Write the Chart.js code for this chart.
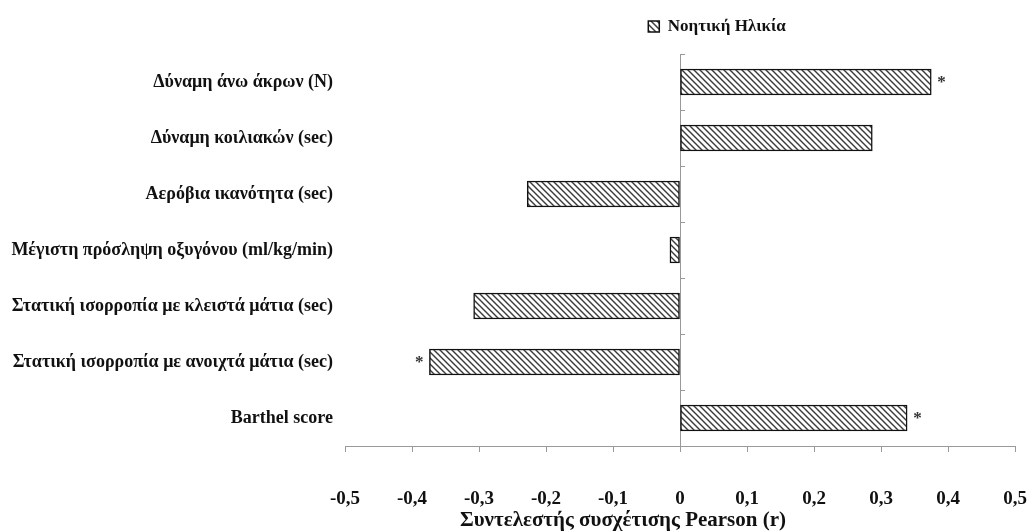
<!DOCTYPE html>
<html>
<head>
<meta charset="utf-8">
<script src="https://cdn.jsdelivr.net/npm/chart.js@4"></script>
<style>
  html, body { margin: 0; padding: 0; background: #fff; }
  #wrap { width: 1028px; height: 531px; }
</style>
</head>
<body>
<div id="wrap"><canvas id="myChart" width="1028" height="531"></canvas></div>
<script>
// Categories (top to bottom)
const categories = [
  'Δύναμη άνω άκρων (N)',
  'Δύναμη κοιλιακών (sec)',
  'Αερόβια ικανότητα (sec)',
  'Μέγιστη πρόσληψη οξυγόνου (ml/kg/min)',
  'Στατική ισορροπία με κλειστά μάτια (sec)',
  'Στατική ισορροπία με ανοιχτά μάτια (sec)',
  'Barthel score'
];

// Pearson r with mental age
const correlations = [0.375, 0.287, -0.228, -0.015, -0.308, -0.374, 0.339];

// Significant correlations get an asterisk
const significant = [true, false, false, false, false, true, true];

const seriesName = 'Νοητική Ηλικία';
const axisTitle = 'Συντελεστής συσχέτισης Pearson (r)';
const xTicks = [-0.5, -0.4, -0.3, -0.2, -0.1, 0, 0.1, 0.2, 0.3, 0.4, 0.5];

var ctx = document.getElementById('myChart').getContext('2d');

// diagonal hatch fill
function makeHatch() {
  const c = document.createElement('canvas');
  c.width = 6; c.height = 6;
  const g = c.getContext('2d');
  g.fillStyle = '#fff';
  g.fillRect(0, 0, 6, 6);
  g.strokeStyle = '#3a3a3a';
  g.lineWidth = 1.4;
  g.beginPath();
  g.moveTo(-6, -6); g.lineTo(12, 12);
  g.moveTo(-6, 0); g.lineTo(6, 12);
  g.moveTo(0, -6); g.lineTo(12, 6);
  g.stroke();
  return ctx.createPattern(c, 'repeat');
}

const serif = "'Liberation Serif', 'DejaVu Serif', serif";

// asterisks, zero-line ticks, legend nudge and the x axis title
const extras = {
  id: 'extras',
  afterLayout(chart) {
    const lg = chart.legend;
    if (lg && !lg._shifted) {
      lg.left += 37; lg.right += 37;
      lg.top -= 9; lg.bottom -= 9;
      lg._shifted = true;
    }
  },
  afterDatasetsDraw(chart) {
    const c = chart.ctx;
    const meta = chart.getDatasetMeta(0);
    const ys = chart.scales.y;
    const x0 = chart.scales.x.getPixelForValue(0);
    c.save();
    c.strokeStyle = '#999';
    c.lineWidth = 1;
    for (let i = 0; i <= categories.length; i++) {
      const y = Math.round(ys.getPixelForValue(i - 0.5)) + 0.5;
      c.beginPath();
      c.moveTo(x0, y);
      c.lineTo(x0 + 5, y);
      c.stroke();
    }
    c.fillStyle = '#333';
    c.font = 'bold 17px ' + serif;
    c.textBaseline = 'middle';
    meta.data.forEach((bar, i) => {
      if (!significant[i]) return;
      if (correlations[i] >= 0) {
        c.textAlign = 'left';
        c.fillText('*', bar.x + 6, bar.y + 1);
      } else {
        c.textAlign = 'right';
        c.fillText('*', bar.x - 6, bar.y + 1);
      }
    });
    // axis title (sits left of the plot centre in the original)
    c.fillStyle = '#111';
    c.font = 'bold 21px ' + serif;
    c.textAlign = 'center';
    c.textBaseline = 'middle';
    c.fillText(axisTitle, 623, 521);
    c.restore();
  }
};

var chart = new Chart(ctx, {
  type: 'bar',
  data: {
    labels: categories,
    datasets: [{
      label: seriesName,
      data: correlations,
      backgroundColor: makeHatch(),
      borderColor: '#111',
      borderWidth: 1.5,
      borderSkipped: false,
      barThickness: 26
    }]
  },
  options: {
    indexAxis: 'y',
    responsive: false,
    animation: false,
    layout: { padding: { left: 0, right: 0, top: 10, bottom: 23 } },
    plugins: {
      legend: {
        position: 'top',
        fullSize: false,
        labels: {
          boxWidth: 11,
          boxHeight: 11,
          padding: 17,
          color: '#111',
          font: { family: serif, size: 17, weight: 'bold' }
        }
      },
      tooltip: { enabled: false }
    },
    scales: {
      x: {
        min: -0.5,
        max: 0.5,
        afterBuildTicks: scale => { scale.ticks = xTicks.map(v => ({ value: v })); },
        afterFit: scale => {
          scale.height = 62;
          scale.paddingLeft = 0;
          scale.paddingRight = 13;
        },
        ticks: {
          color: '#111',
          padding: 36,
          font: { family: serif, size: 19, weight: 'bold' },
          callback: v => Math.abs(v) < 1e-9 ? '0' : v.toFixed(1).replace('.', ',')
        },
        grid: {
          color: c => (c.tick && Math.abs(c.tick.value) < 1e-9) ? '#999' : 'transparent',
          tickColor: '#999',
          tickLength: 6
        },
        border: { color: '#999' }
      },
      y: {
        grid: { display: false },
        border: { display: false },
        afterFit: scale => {
          scale.width = 345;
          scale.paddingTop = 0;
          scale.paddingBottom = 0;
        },
        ticks: {
          color: '#111',
          padding: 4,
          font: { family: serif, size: 18, weight: 'bold' }
        }
      }
    }
  },
  plugins: [extras]
});
</script>
</body>
</html>
